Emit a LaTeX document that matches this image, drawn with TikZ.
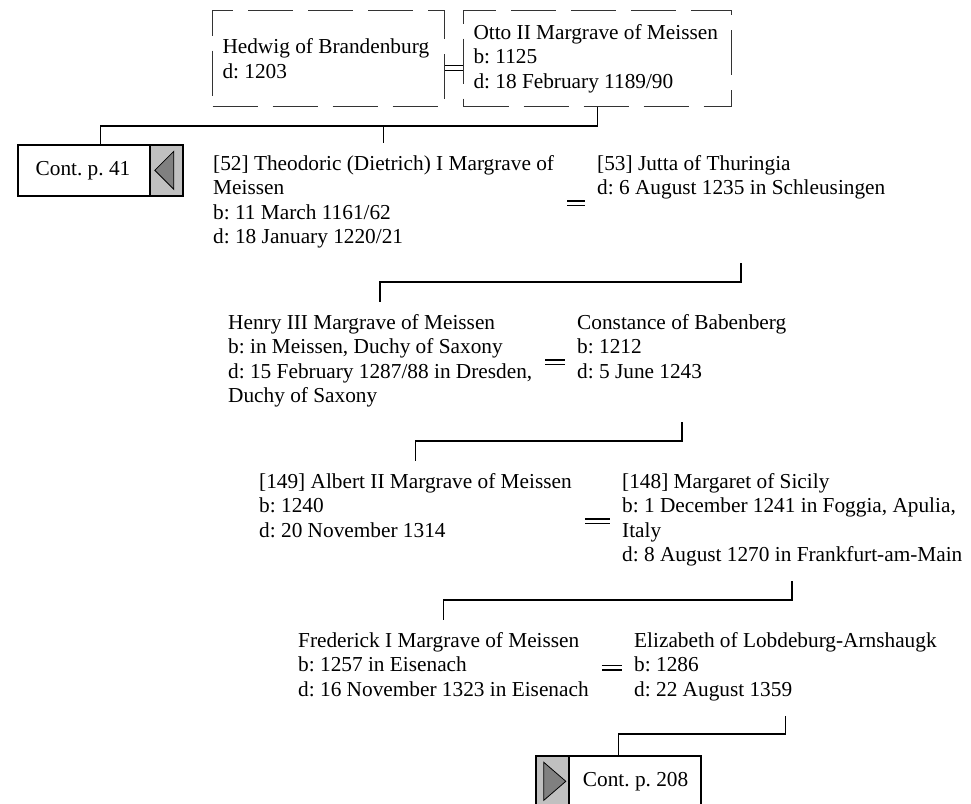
\documentclass[tikz,border=0pt]{standalone}
\usepackage{fontspec}
\setmainfont{Liberation Serif}
\usepackage{tikz}
\usetikzlibrary{calc,positioning}
\frenchspacing
\definecolor{tabgray}{RGB}{192,192,192}
\definecolor{arrowgray}{RGB}{128,128,128}
\tikzset{>=latex}
\tikzset{font=\fontsize{21.3pt}{24.5pt}\selectfont}
\tikzset{
  person/.style={align=left, anchor=north west, inner xsep=9pt, inner ysep=12pt,
    execute at begin node=\strut, execute at end node=\strut},
  spousebox/.style={draw=black!80, line width=1pt, dash pattern=on 45pt off 15pt,
    minimum height=96pt, inner xsep=10pt, inner ysep=0pt, align=flush left, anchor=north west},
  contbox/.style={draw, line width=1.6pt, minimum width=165pt, minimum height=51pt, inner sep=0pt},
  tab/.style={draw, line width=1.6pt, fill=tabgray, minimum width=33pt, minimum height=51pt, inner sep=0pt},
  link/.style={line width=1.6pt},
  marriage/.style={double, double distance=3.2pt, line width=1.5pt, shorten <=4pt, shorten >=3pt},
}

\begin{document}
\begin{tikzpicture}[x=1pt, y=-1pt]
  \useasboundingbox (0,0) rectangle (971,803);
  % parents
  \node[spousebox, text width=212pt] (hedwig) at (212,10) {Hedwig of Brandenburg\\d: 1203};
  \node[spousebox, text width=248pt] (otto) at (463,10) {Otto II Margrave of Meissen\\b: 1125\\d: 18 February 1189/90};
  \draw[marriage, shorten <=0pt, shorten >=0pt] ([yshift=-9.5pt]hedwig.east) -- ([yshift=-9.5pt]otto.west);

  % continuation to p. 41
  \node[contbox, anchor=north west] (cont41) at (17,144) {};
  \node[tab, anchor=north east] (tab41) at (cont41.north east) {};
  \node (cont41text) at ($(cont41.west)!0.5!(tab41.west)$) {Cont. p. 41};
  \draw[fill=arrowgray, line width=0.8pt] ([xshift=-11.5pt]tab41.center) -- ([xshift=7.5pt,yshift=19pt]tab41.center)
    -- ([xshift=7.5pt,yshift=-19pt]tab41.center) -- cycle;

  \node[person] (theo) at (204,143) {[52] Theodoric (Dietrich) I Margrave of\\Meissen\\b: 11 March 1161/62\\d: 18 January 1220/21};
  \node[person] (jutta) at (588,143) {[53] Jutta of Thuringia\\d: 6 August 1235 in Schleusingen};

  \node[person] (henry) at (219,302) {Henry III Margrave of Meissen\\b: in Meissen, Duchy of Saxony\\d: 15 February 1287/88 in Dresden,\\Duchy of Saxony};
  \node[person] (constance) at (568,302) {Constance of Babenberg\\b: 1212\\d: 5 June 1243};

  \node[person] (albert) at (250,461) {[149] Albert II Margrave of Meissen\\b: 1240\\d: 20 November 1314};
  \node[person] (margaret) at (613,461) {[148] Margaret of Sicily\\b: 1 December 1241 in Foggia, Apulia,\\Italy\\d: 8 August 1270 in Frankfurt-am-Main};

  \node[person] (frederick) at (289,620) {Frederick I Margrave of Meissen\\b: 1257 in Eisenach\\d: 16 November 1323 in Eisenach};
  \node[person] (elizabeth) at (625,620) {Elizabeth of Lobdeburg-Arnshaugk\\b: 1286\\d: 22 August 1359};

  % continuation to p. 208
  \node[contbox, anchor=north west] (cont208) at (535,755) {};
  \node[tab, anchor=north west] (tab208) at (cont208.north west) {};
  \node (cont208text) at ($(tab208.east)!0.5!(cont208.east)$) {Cont. p. 208};
  \draw[fill=arrowgray, line width=0.8pt] ([xshift=13.5pt]tab208.center) -- ([xshift=-8.5pt,yshift=19pt]tab208.center)
    -- ([xshift=-8.5pt,yshift=-19pt]tab208.center) -- cycle;

  % marriages
  \draw[marriage] (theo.east) -- (jutta.west |- theo.east);
  \draw[marriage] (henry.east) -- (constance.west |- henry.east);
  \draw[marriage] (albert.east |- margaret.west) -- (margaret.west);
  \draw[marriage] (frederick.east) -- (elizabeth.west);

  % descent lines
  \draw[link] (otto.south) -- ++(0,19) -| (cont41.north);
  \draw[link] (otto.south) -- ++(0,19) -| (theo.north);
  \draw[link] (theo.south -| jutta.south) -- ++(0,18.5) -| (henry.north);
  \draw[link] (henry.south -| constance.south) -- ++(0,18.5) -| (albert.north);
  \draw[link] (margaret.south) -- ++(0,18.5) -| (frederick.north);
  \draw[link] (elizabeth.south) -- ++(0,18.5) -| (cont208.north);
\end{tikzpicture}
\end{document}
